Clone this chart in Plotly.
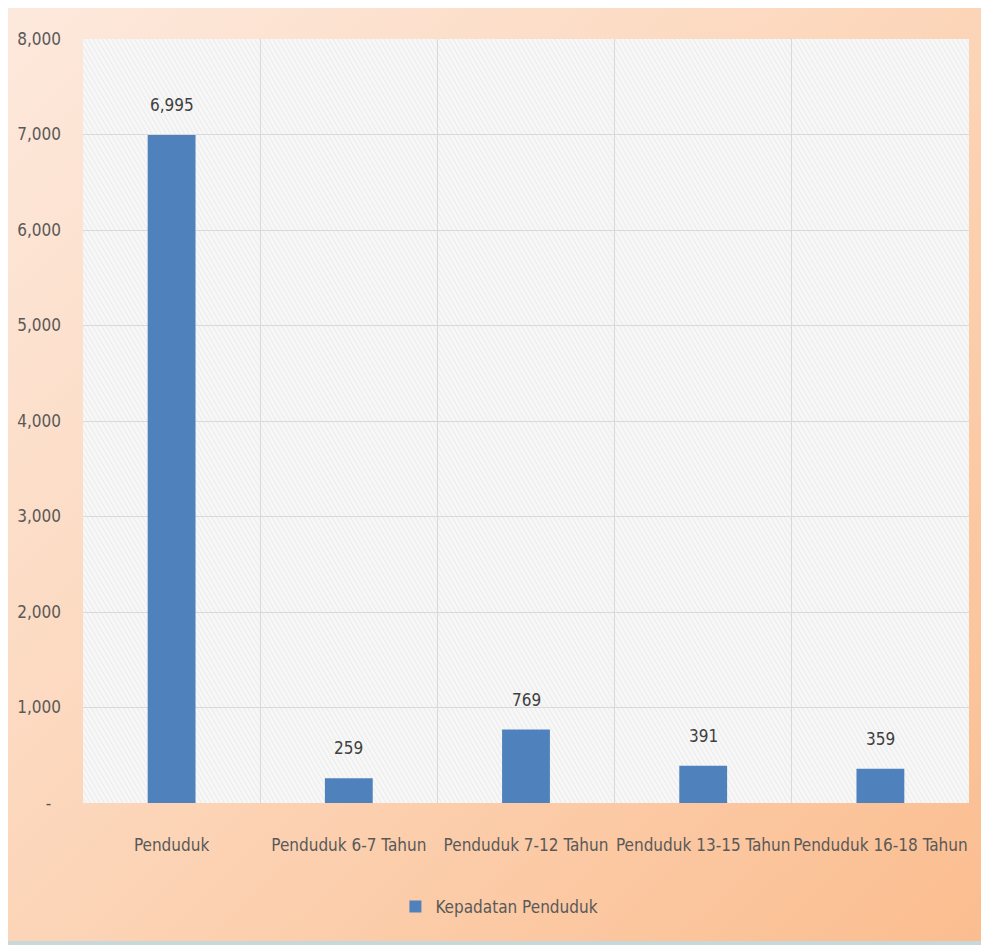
import base64
import plotly.graph_objects as go

categories = ["Penduduk", "Penduduk 6-7 Tahun", "Penduduk 7-12 Tahun",
              "Penduduk 13-15 Tahun", "Penduduk 16-18 Tahun"]
values = [6995, 259, 769, 391, 359]
series_name = "Kepadatan Penduduk"
y_tick_vals = [0, 1000, 2000, 3000, 4000, 5000, 6000, 7000, 8000]
y_tick_text = ["-\u00a0\u00a0", "1,000", "2,000", "3,000", "4,000", "5,000", "6,000", "7,000", "8,000"]

FONT = "DejaVu Sans Condensed, Lato, sans-serif"

W, H = 989, 945
ML, MR, MT, MB = 75, 28, 31, 150
PW, PH = W - ML - MR, H - MT - MB

bg_svg = f"""<svg xmlns='http://www.w3.org/2000/svg' width='{W}' height='{H}' viewBox='0 0 {W} {H}' preserveAspectRatio='none'>
<defs><linearGradient id='g' x1='0' y1='0' x2='1' y2='1'>
<stop offset='0' stop-color='#fde9dd'/>
<stop offset='0.5' stop-color='#fcd5b8'/>
<stop offset='1' stop-color='#fbbd8f'/>
</linearGradient></defs>
<rect x='0' y='0' width='{W}' height='{H}' fill='#c7d8da'/>
<rect x='0' y='0' width='977' height='933' fill='url(#g)'/>
</svg>"""

hatch_svg = f"""<svg xmlns='http://www.w3.org/2000/svg' width='{PW}' height='{PH}' viewBox='0 0 {PW} {PH}' preserveAspectRatio='none'>
<defs><pattern id='p' width='4' height='4' patternUnits='userSpaceOnUse' patternTransform='rotate(-30)'>
<rect width='4' height='4' fill='#f7f7f7'/>
<line x1='0' y1='0' x2='0' y2='4' stroke='#e3e3e3' stroke-width='1.2'/>
</pattern></defs>
<rect width='{PW}' height='{PH}' fill='url(#p)'/>
</svg>"""


def uri(s):
    return "data:image/svg+xml;base64," + base64.b64encode(s.encode()).decode()


def f(size, color):
    return dict(family=FONT, size=size, color=color)


fig = go.Figure()
fig.add_trace(go.Bar(
    x=categories, y=values, name=series_name,
    marker=dict(color="#4f81bd", line=dict(width=0)),
    width=0.27, showlegend=True,
))

for c, v in zip(categories, values):
    fig.add_annotation(x=c, y=v, text=f"{v:,}", showarrow=False,
                       yanchor="bottom", yshift=18, font=f(17, "#404040"))

fig.update_layout(
    width=W, height=H,
    margin=dict(l=ML, r=MR, t=MT, b=MB, autoexpand=False),
    paper_bgcolor="#c7d8da",
    plot_bgcolor="rgba(0,0,0,0)",
    font=f(17, "#595959"),
    images=[
        dict(source=uri(bg_svg), xref="paper", yref="paper", x=-ML / PW, y=1 + MT / PH,
             sizex=W / PW, sizey=H / PH, sizing="stretch", layer="below",
             xanchor="left", yanchor="top"),
        dict(source=uri(hatch_svg), xref="x domain", yref="y domain", x=0, y=1,
             sizex=1, sizey=1, sizing="stretch", layer="below",
             xanchor="left", yanchor="top"),
    ],
    xaxis=dict(type="category", tickson="boundaries", showgrid=True,
               gridcolor="#d9d9d9", gridwidth=1, ticks="", showline=False,
               tickangle=0, automargin=False,
               ticklabelstandoff=30, tickfont=f(17, "#595959"),
               range=[-0.5, 4.5]),
    yaxis=dict(range=[0, 8000], tickvals=y_tick_vals, ticktext=y_tick_text,
               showgrid=True, gridcolor="#d9d9d9", gridwidth=1, zeroline=False,
               showline=False, ticks="", ticklabelstandoff=21, automargin=False,
               tickfont=f(17, "#595959")),
    legend=dict(orientation="h", x=0.47, xanchor="center", y=-0.136, yanchor="middle",
                bgcolor="rgba(0,0,0,0)", font=f(17, "#595959"),
                itemwidth=30),
    showlegend=True,
    bargap=0.73,
)

fig.write_html("out.html")
